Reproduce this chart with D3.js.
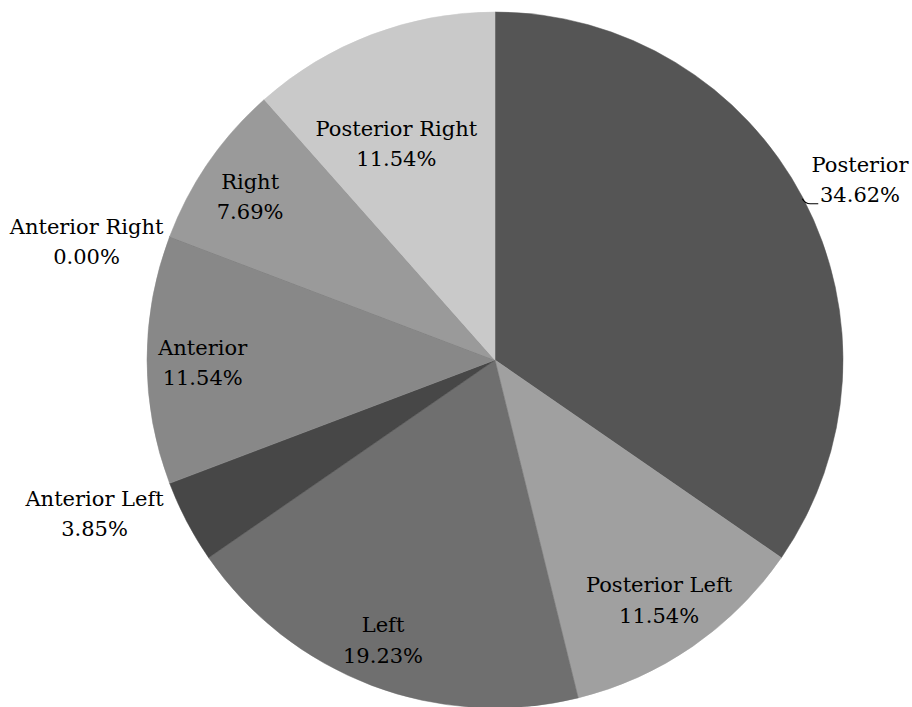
<!DOCTYPE html>
<html>
<head>
  <meta charset="utf-8">
  <style>
    body { margin: 0; background: #fff; }
    .label {
      font-family: "DejaVu Serif", "Liberation Serif", serif;
      font-size: 21px;
      fill: #000;
    }
    .leader {
      fill: none;
      stroke: #000;
      stroke-width: 1.2px;
    }
  </style>
</head>
<body>
  <svg width="912" height="707"></svg>
  <script src="https://d3js.org/d3.v7.min.js"></script>
  <script>
    // slices clockwise from 12 o'clock
    const categories = ["Posterior", "Posterior Left", "Left", "Anterior Left",
                        "Anterior", "Anterior Right", "Right", "Posterior Right"];
    const percents = [34.62, 11.54, 19.23, 3.85, 11.54, 0.00, 7.69, 11.54];
    const colors = ["#555555", "#a0a0a0", "#6f6f6f", "#474747",
                    "#888888", "#7a7a7a", "#9a9a9a", "#c9c9c9"];
    // label placement: distance from centre as share of radius (>1 = outside),
    // and a small angular nudge in degrees (best-fit style placement)
    const labelRadius = [1.173, 0.83, 0.86, 1.23, 0.84, 1.224, 0.85, 0.69];
    const labelShift = [1.1, 0, 1.2, 7, 0, -4.3, -0.5, -3.5];

    const svg = d3.select("svg");
    const cx = 495, cy = 360, r = 348;

    const pie = d3.pie().sort(null).value(d => d)(percents);
    const arc = d3.arc().innerRadius(0).outerRadius(r);

    const g = svg.append("g").attr("transform", `translate(${cx},${cy})`);

    g.selectAll("path.slice")
      .data(pie)
      .enter().append("path")
      .attr("class", "slice")
      .attr("d", arc)
      .attr("fill", (d, i) => colors[i])
      .attr("stroke", (d, i) => colors[i])
      .attr("stroke-width", 0.5);

    const mid = d => (d.startAngle + d.endAngle) / 2;

    const labels = g.selectAll("text.label")
      .data(pie)
      .enter().append("text")
      .attr("class", "label")
      .attr("text-anchor", "middle")
      .attr("transform", (d, i) => {
        const a = mid(d) + labelShift[i] * Math.PI / 180, k = labelRadius[i] * r;
        return `translate(${Math.sin(a) * k},${-Math.cos(a) * k})`;
      });

    labels.append("tspan")
      .attr("x", 0).attr("dy", "-0.25em")
      .text((d, i) => categories[i]);
    labels.append("tspan")
      .attr("x", 0).attr("dy", "1.45em")
      .text((d, i) => percents[i].toFixed(2) + "%");

    // leader line for the big slice label
    const a0 = mid(pie[0]);
    const p0 = [Math.sin(a0) * (r - 1), -Math.cos(a0) * (r - 1)];
    const p1 = [p0[0] + 8, p0[1] + 5];
    const p2 = [p0[0] + 16, p0[1] + 5];
    g.append("path")
      .attr("class", "leader")
      .attr("d", `M${p0[0]},${p0[1]} Q${p0[0] + 3},${p1[1]} ${p1[0]},${p1[1]} L${p2[0]},${p2[1]}`);
  </script>
</body>
</html>
